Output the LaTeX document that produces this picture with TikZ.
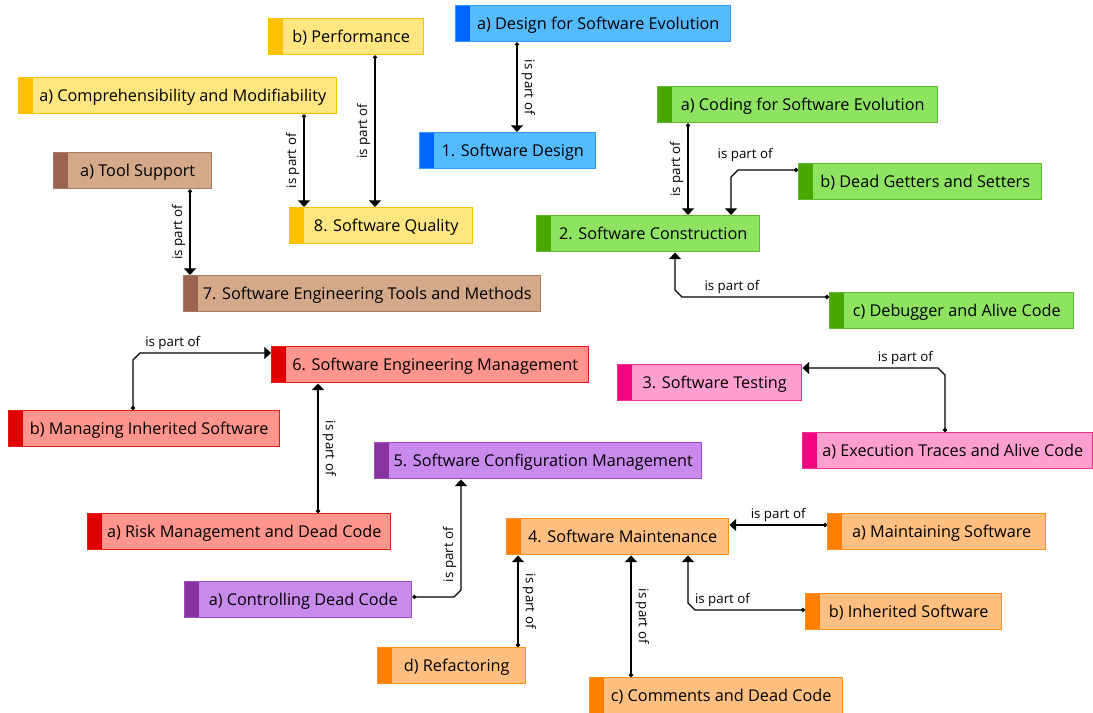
\documentclass[tikz,border=0pt]{standalone}
\usepackage{fontspec}
\setmainfont{Open Sans}
\usetikzlibrary{arrows.meta}

\definecolor{qualstrip}{HTML}{FFC000}
\definecolor{qualfill}{HTML}{FFE680}
\definecolor{desstrip}{HTML}{0066FF}
\definecolor{desline}{HTML}{3399FF}
\definecolor{desfill}{HTML}{55BBFF}
\definecolor{consstrip}{HTML}{4CA600}
\definecolor{consline}{HTML}{5CB82E}
\definecolor{consfill}{HTML}{8EE461}
\definecolor{toolstrip}{HTML}{9A6450}
\definecolor{toolline}{HTML}{A87A64}
\definecolor{toolfill}{HTML}{D3A98A}
\definecolor{mgmtstrip}{HTML}{E00000}
\definecolor{mgmtline}{HTML}{E31A1A}
\definecolor{mgmtfill}{HTML}{FF958C}
\definecolor{teststrip}{HTML}{F0047F}
\definecolor{testline}{HTML}{F0308F}
\definecolor{testfill}{HTML}{FF9FD0}
\definecolor{confstrip}{HTML}{8833A0}
\definecolor{confline}{HTML}{9E4CC0}
\definecolor{conffill}{HTML}{C98AEE}
\definecolor{maintstrip}{HTML}{FF8000}
\definecolor{maintline}{HTML}{FF9020}
\definecolor{maintfill}{HTML}{FFBF80}

\tikzset{
  concept/.style n args={3}{draw=#2, fill=#3, line width=1.1pt, anchor=north west,
    inner xsep=0pt, inner ysep=0pt, minimum height=27pt,
    text height=11.6pt, text depth=3pt,
    font=\fontsize{12.2}{14}\selectfont, execute at begin node={\hspace*{7.5pt}},
    path picture={\fill[#1] (path picture bounding box.north west)
      rectangle ([xshift=10.5pt]path picture bounding box.south west);}},
  wd/.style={minimum width=0.75*#1pt},
  yellowbox/.style={concept={qualstrip}{qualstrip}{qualfill}},
  bluebox/.style={concept={desstrip}{desline}{desfill}},
  greenbox/.style={concept={consstrip}{consline}{consfill}},
  brownbox/.style={concept={toolstrip}{toolline}{toolfill}},
  redbox/.style={concept={mgmtstrip}{mgmtline}{mgmtfill}},
  pinkbox/.style={concept={teststrip}{testline}{testfill}},
  purplebox/.style={concept={confstrip}{confline}{conffill}},
  orangebox/.style={concept={maintstrip}{maintline}{maintfill}},
  partof/.style={line width=1pt, {Circle[length=3pt]}-{Triangle[length=5pt,width=9pt]}},
  lbl/.style={font=\fontsize{10}{12}\selectfont, inner sep=2pt},
  upl/.style={lbl, rotate=90, anchor=south, inner sep=3pt},
  dnl/.style={lbl, rotate=-90, anchor=south, inner sep=3pt},
}

\begin{document}
\begin{tikzpicture}[x=0.75pt,y=-0.75pt]
  \useasboundingbox (0,0) rectangle (1093,713);

  % 1. Software Design
  \node[bluebox,wd=275] (dsevol) at (455,5) {a) Design for Software Evolution};
  \node[bluebox,wd=176] (swdesign) at (419,132) {1. Software Design};
  \draw[partof] (dsevol.south -| 517,0) -- (swdesign.north -| 517,0) node[midway,dnl] {is part of};

  % 2. Software Construction
  \node[greenbox,wd=280] (codevol) at (657,86) {a) Coding for Software Evolution};
  \node[greenbox,wd=243] (getters) at (798,163) {b) Dead Getters and Setters};
  \node[greenbox,wd=223] (construction) at (536,215) {2. Software Construction};
  \node[greenbox,wd=244] (debugger) at (829,292) {c) Debugger and Alive Code};
  \draw[partof] (codevol.south -| 688,0) -- (construction.north -| 688,0) node[midway,upl] {is part of};
  \draw[partof] (getters.west |- 0,170) -- node[pos=0.88,lbl,above=4pt] {is part of} (738,170)
    -- (731,177) -- (construction.north -| 731,0);
  \draw[partof] (debugger.west |- 0,297) -- node[pos=0.66,lbl,above] {is part of} (682,297)
    -- (675,290) -- (construction.south -| 675,0);

  % 8. Software Quality
  \node[yellowbox,wd=155] (perf) at (268,18) {b) Performance};
  \node[yellowbox,wd=318] (compmod) at (18,77) {a) Comprehensibility and Modifiability};
  \node[yellowbox,wd=183] (quality) at (289,207) {8. Software Quality};
  \draw[partof] (perf.south -| 375,0) -- (quality.north -| 375,0) node[midway,upl] {is part of};
  \draw[partof] (compmod.south -| 304,0) -- (quality.north -| 304,0) node[midway,upl] {is part of};

  % 7. Software Engineering Tools and Methods
  \node[brownbox,wd=158] (toolsup) at (53,152) {a) Tool Support};
  \node[brownbox,wd=357] (tools) at (183,275) {7. Software Engineering Tools and Methods};
  \draw[partof] (toolsup.south -| 190,0) -- (tools.north -| 190,0) node[midway,upl] {is part of};

  % 6. Software Engineering Management
  \node[redbox,wd=317] (mgmt) at (271,346) {6. Software Engineering Management};
  \node[redbox,wd=271] (inherited) at (8,410) {b) Managing Inherited Software};
  \node[redbox,wd=303] (risk) at (87,513) {a) Risk Management and Dead Code};
  \draw[partof] (inherited.north -| 133,0) -- (133,360) -- (140,353)
    -- node[pos=0.25,lbl,above] {is part of} (mgmt.west |- 0,353);
  \draw[partof] (risk.north -| 318,0) -- (mgmt.south -| 318,0) node[midway,dnl] {is part of};

  % 3. Software Testing
  \node[pinkbox,wd=184] (testing) at (617,364) {3. Software Testing};
  \node[pinkbox,wd=290] (traces) at (802,432) {a) Execution Traces and Alive Code};
  \draw[partof] (traces.north -| 945,0) -- (945,375) -- (938,368)
    -- node[pos=0.24,lbl,above] {is part of} (testing.east |- 0,368);

  % 5. Software Configuration Management
  \node[purplebox,wd=327] (config) at (374,442) {5. Software Configuration Management};
  \node[purplebox,wd=227] (controlling) at (184,581) {a) Controlling Dead Code};
  \draw[partof] (controlling.east |- 0,597) -- (454,597) -- (461,590)
    -- node[pos=0.32,upl] {is part of} (config.south -| 461,0);

  % 4. Software Maintenance
  \node[orangebox,wd=222] (maint) at (506,518) {4. Software Maintenance};
  \node[orangebox,wd=218] (maintaining) at (827,513) {a) Maintaining Software};
  \node[orangebox,wd=196] (inhsw) at (805,593) {b) Inherited Software};
  \node[orangebox,wd=148] (refactor) at (377,647) {d) Refactoring};
  \node[orangebox,wd=253] (comments) at (589,677) {c) Comments and Dead Code};
  \draw[partof] (maintaining.west |- 0,525) -- (maint.east |- 0,525) node[midway,lbl,above] {is part of};
  \draw[partof] (inhsw.west |- 0,610) -- node[pos=0.75,lbl,above] {is part of} (695,610)
    -- (688,603) -- (maint.south -| 688,0);
  \draw[partof] (refactor.north -| 518,0) -- (maint.south -| 518,0) node[midway,dnl] {is part of};
  \draw[partof] (comments.north -| 631,0) -- (maint.south -| 631,0) node[midway,dnl] {is part of};
\end{tikzpicture}
\end{document}
